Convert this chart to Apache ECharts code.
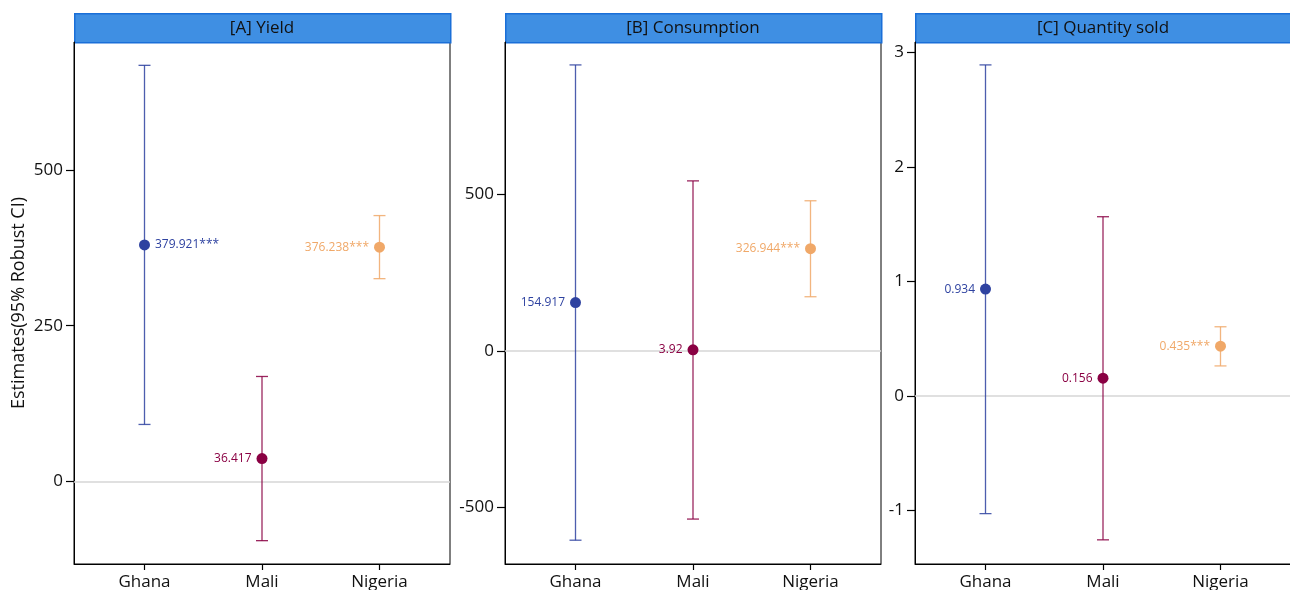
<!DOCTYPE html>
<html>
<head>
<meta charset="utf-8">
<script src="https://cdn.jsdelivr.net/npm/echarts@6/dist/echarts.min.js"></script>
<style>
  html, body { margin: 0; padding: 0; background: #fff; }
  #chart { width: 1290px; height: 590px; }
</style>
</head>
<body>
<div id="chart"></div>
<script>
const countries = ['Ghana', 'Mali', 'Nigeria'];
const countryColors = ['#2e42a0', '#8a0043', '#f0a868'];
const panelTitles = ['[A] Yield', '[B] Consumption', '[C] Quantity sold'];

// estimates and 95% robust CI per panel (Ghana, Mali, Nigeria)
const yieldEst = [379.921, 36.417, 376.238];
const yieldLow = [91.3, -95.5, 325.6];
const yieldHigh = [668.5, 168.4, 427.0];
const yieldLabels = ['379.921***', '36.417', '376.238***'];

const consEst = [154.917, 3.92, 326.944];
const consLow = [-604.0, -536.5, 173.5];
const consHigh = [913.8, 543.5, 480.0];
const consLabels = ['154.917', '3.92', '326.944***'];

const qtyEst = [0.934, 0.156, 0.435];
const qtyLow = [-1.027, -1.256, 0.263];
const qtyHigh = [2.892, 1.566, 0.605];
const qtyLabels = ['0.934', '0.156', '0.435***'];

// y-axis ranges and tick labels
const yRanges = [[-133, 706], [-680, 987], [-1.467, 3.092]];
const yTicks = [[0, 250, 500], [-500, 0, 500], [-1, 0, 1, 2, 3]];
const xTicks = [0, 1, 2];

// label side per point: Ghana in panel A sits to the right
const labelSides = [['right', 'left', 'left'], ['left', 'left', 'left'], ['left', 'left', 'left']];

const panels = [
  { est: yieldEst, low: yieldLow, high: yieldHigh, labels: yieldLabels },
  { est: consEst, low: consLow, high: consHigh, labels: consLabels },
  { est: qtyEst, low: qtyLow, high: qtyHigh, labels: qtyLabels }
];

const gridLefts = [74, 505, 915];
const gridWidth = 376;
const gridTop = 42;
const gridHeight = 522;
const font = '"Open Sans", "Noto Sans", sans-serif';

const chart = echarts.init(document.getElementById('chart'));

const grids = [], xAxes = [], yAxes = [], series = [], graphics = [];

panels.forEach((p, i) => {
  grids.push({
    left: gridLefts[i], top: gridTop, width: gridWidth, height: gridHeight,
    outerBoundsMode: 'none', containLabel: false,
    show: true, borderColor: '#000', borderWidth: 1, backgroundColor: '#fff'
  });
  xAxes.push({
    type: 'value', gridIndex: i, min: -0.6, max: 2.6,
    axisLine: { show: true, onZero: false, lineStyle: { color: '#000', width: 1 } },
    axisTick: { show: true, length: 6, lineStyle: { color: '#000', width: 1.2 }, customValues: xTicks },
    axisLabel: {
      color: '#111', fontSize: 17, fontFamily: font, margin: 10,
      customValues: xTicks, formatter: (v) => countries[Math.round(v)]
    },
    splitLine: { show: false }
  });
  yAxes.push({
    type: 'value', gridIndex: i, min: yRanges[i][0], max: yRanges[i][1],
    name: i === 0 ? 'Estimates(95% Robust CI)' : '',
    nameLocation: 'middle', nameGap: 46, nameRotate: 90,
    nameTextStyle: { color: '#111', fontSize: 18, fontFamily: font },
    axisLine: { show: true, onZero: false, lineStyle: { color: '#000', width: 1 } },
    axisTick: { show: true, inside: false, length: 8, lineStyle: { color: '#000', width: 1.2 }, customValues: yTicks[i] },
    axisLabel: { color: '#111', fontSize: 17, fontFamily: font, margin: 11, customValues: yTicks[i] },
    splitLine: { show: false }
  });

  // error bars
  series.push({
    type: 'custom', xAxisIndex: i, yAxisIndex: i, z: 3,
    data: countries.map((c, k) => [k, p.low[k], p.high[k]]),
    renderItem: (params, api) => {
      const k = api.value(0);
      const lo = api.coord([k, api.value(1)]);
      const hi = api.coord([k, api.value(2)]);
      const cap = 6;
      const style = { stroke: countryColors[k], lineWidth: 1.3, opacity: 0.85 };
      return {
        type: 'group',
        children: [
          { type: 'line', shape: { x1: lo[0], y1: lo[1], x2: hi[0], y2: hi[1] }, style },
          { type: 'line', shape: { x1: lo[0] - cap, y1: lo[1], x2: lo[0] + cap, y2: lo[1] }, style },
          { type: 'line', shape: { x1: hi[0] - cap, y1: hi[1], x2: hi[0] + cap, y2: hi[1] }, style }
        ]
      };
    },
    markLine: {
      silent: true, symbol: 'none', z: 1,
      lineStyle: { color: '#d6d6d6', type: 'solid', width: 1.5 },
      label: { show: false },
      data: [{ yAxis: 0 }]
    }
  });

  // point estimates
  series.push({
    type: 'scatter', xAxisIndex: i, yAxisIndex: i, z: 4,
    symbolSize: 11,
    data: countries.map((c, k) => ({
      value: [k, p.est[k]],
      itemStyle: { color: countryColors[k], opacity: 1 },
      label: {
        show: true, position: labelSides[i][k], distance: 5,
        formatter: p.labels[k], color: countryColors[k],
        fontSize: 12, fontFamily: font
      }
    }))
  });

  // panel header strip
  graphics.push({
    type: 'rect', left: gridLefts[i], top: 13,
    shape: { width: gridWidth, height: 29 },
    style: { fill: '#3f8fe3', stroke: '#1a6fd8', lineWidth: 1.5 }
  });
  graphics.push({
    type: 'text', x: gridLefts[i] + gridWidth / 2, y: 28,
    style: {
      text: panelTitles[i], fill: '#111', font: '17px ' + font,
      align: 'center', verticalAlign: 'middle'
    }
  });
});

chart.setOption({
  animation: false,
  backgroundColor: '#fff',
  grid: grids,
  xAxis: xAxes,
  yAxis: yAxes,
  series: series,
  graphic: graphics
});
</script>
</body>
</html>
